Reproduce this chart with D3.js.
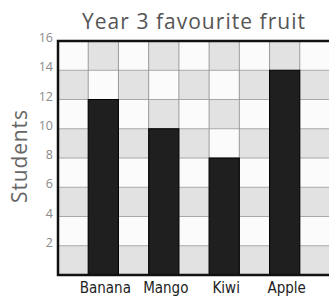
<!DOCTYPE html>
<html>
<head>
<meta charset="utf-8">
<script src="https://cdn.jsdelivr.net/npm/d3@7"></script>
<style>
  body { margin: 0; background: #fff; }
  svg { display: block; }
</style>
</head>
<body>
<div id="chart"></div>
<script>
// data
let fruits = ["Banana", "Mango", "Kiwi", "Apple"]
let students = [12, 10, 8, 14]
let yTicks = [2, 4, 6, 8, 10, 12, 14, 16]
let title = "Year 3 favourite fruit"
let yTitle = "Students"

let width = 329, height = 298
let svg = d3.select("#chart")
    .append("svg")
    .attr("width", width)
    .attr("height", height)

let plotLeft = 58, plotRight = 330, plotTop = 41, plotBottom = 275
let nCols = fruits.length * 2 + 1

// columns of the checker grid, bars sit in every second one
let col = d3.scaleBand()
    .domain(d3.range(nCols))
    .range([plotLeft, plotRight])
    .padding(0)
let y = d3.scaleLinear()
    .domain([0, 16])
    .range([plotBottom, plotTop])

// checker background
let rows = d3.range(0, 16, 2)
let cells = []
rows.forEach((r, ri) => {
    d3.range(nCols).forEach(c => cells.push({ r: r, ri: ri, c: c }))
})
svg.append("g")
    .selectAll("rect")
    .data(cells)
    .enter()
    .append("rect")
    .attr("x", d => col(d.c))
    .attr("y", d => y(d.r + 2))
    .attr("width", col.bandwidth())
    .attr("height", y(0) - y(2))
    .attr("fill", d => ((d.ri + d.c) % 2 == 0) ? "#e2e2e2" : "#fbfbfb")

// grid lines
let grid = svg.append("g")
grid.selectAll("line.h")
    .data(yTicks.slice(0, -1))
    .enter()
    .append("line")
    .attr("x1", plotLeft).attr("x2", plotRight)
    .attr("y1", d => y(d)).attr("y2", d => y(d))
    .attr("stroke", "#a8a8a8")
    .attr("stroke-width", 1)
grid.selectAll("line.v")
    .data(d3.range(1, nCols))
    .enter()
    .append("line")
    .attr("x1", d => col(d)).attr("x2", d => col(d))
    .attr("y1", plotTop).attr("y2", plotBottom)
    .attr("stroke", "#9a9a9a")
    .attr("stroke-width", 1)

// bars
svg.append("g")
    .selectAll("rect")
    .data(students)
    .enter()
    .append("rect")
    .attr("x", (d, i) => col(i * 2 + 1))
    .attr("y", d => y(d))
    .attr("width", col.bandwidth())
    .attr("height", d => plotBottom - y(d))
    .attr("fill", "#1f1f1f")
    .attr("stroke", "#000")
    .attr("stroke-width", 1)

// frame
svg.append("path")
    .attr("d", `M${plotRight},${plotTop} H${plotLeft} V${plotBottom} H${plotRight}`)
    .attr("fill", "none")
    .attr("stroke", "#111")
    .attr("stroke-width", 2.5)

// y axis labels
let yAxis = svg.append("g")
    .attr("transform", `translate(${plotLeft},0)`)
    .call(d3.axisLeft(y).tickValues(yTicks).tickSize(0).tickPadding(5))
yAxis.select(".domain").remove()
yAxis.selectAll("text")
    .attr("dy", "0.05em")
    .attr("font-family", "'Open Sans', sans-serif")
    .attr("font-size", 12.5)
    .attr("fill", "#8a8a8a")

// x labels
svg.append("g")
    .selectAll("text")
    .data(fruits)
    .enter()
    .append("text")
    .attr("x", (d, i) => col(i * 2 + 1) + col.bandwidth() / 2 + 2)
    .attr("y", 293)
    .attr("text-anchor", "middle")
    .attr("font-family", "'DejaVu Sans Condensed', 'DejaVu Sans', sans-serif")
    .attr("font-stretch", "condensed")
    .attr("font-size", 15)
    .attr("fill", "#222")
    .text(d => d)

// titles
svg.append("text")
    .attr("x", 193.5)
    .attr("y", 29)
    .attr("text-anchor", "middle")
    .attr("font-family", "'Open Sans', sans-serif")
    .attr("font-size", 21)
    .attr("textLength", 223)
    .attr("lengthAdjust", "spacing")
    .attr("fill", "#555")
    .text(title)
svg.append("text")
    .attr("transform", "translate(27,156.5) rotate(-90)")
    .attr("text-anchor", "middle")
    .attr("font-family", "'Open Sans', sans-serif")
    .attr("font-size", 21)
    .attr("textLength", 93)
    .attr("lengthAdjust", "spacing")
    .attr("fill", "#666")
    .text(yTitle)
</script>
</body>
</html>
